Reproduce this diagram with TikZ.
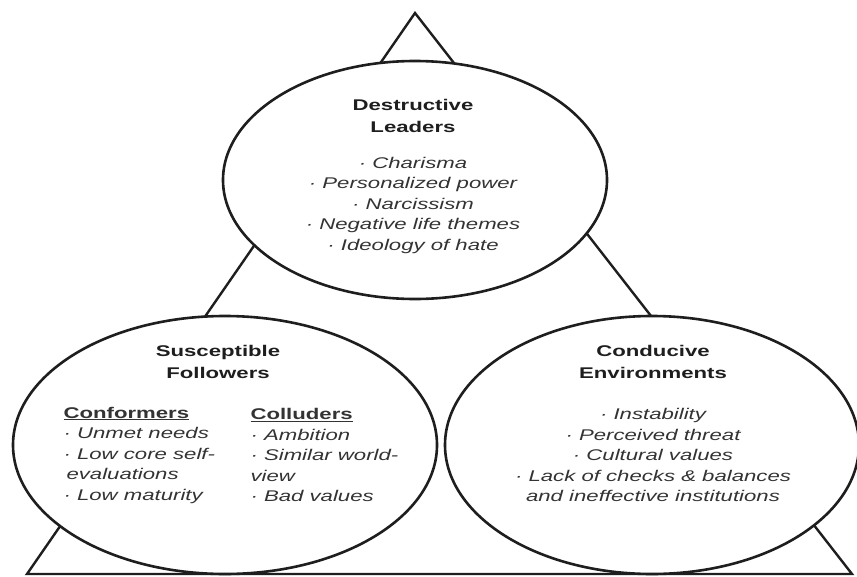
\documentclass[tikz,border=0pt]{standalone}
\usepackage{fontspec}
\setmainfont{Liberation Sans}[FakeStretch=1.43]
\usetikzlibrary{shapes.geometric}
\definecolor{ink}{HTML}{1E1E1E}
\definecolor{note}{HTML}{333333}

\begin{document}
\begin{tikzpicture}[x=1pt,y=-1pt,
  ring/.style={ellipse,draw=ink,line width=2.6pt,fill=white,inner sep=0pt},
  side/.style={draw=ink,line width=2.4pt,line join=miter},
  head/.style={font=\fontsize{15.5}{21.5}\selectfont\bfseries,text=ink,align=center},
  items/.style={font=\fontsize{15.5}{20.5}\selectfont\itshape,text=note},
]
  \useasboundingbox (0,0) rectangle (857,576);
  % triangle behind the three ellipses
  \coordinate (apex) at (415,13);
  \coordinate (bl) at (27,574);
  \coordinate (br) at (852,574);
  \draw[side] (apex) -- (bl) -- (br) -- cycle;

  \node[ring,minimum width=384,minimum height=238] (leaders) at (415,180) {};
  \node[ring,minimum width=424,minimum height=258] (followers) at (225,445) {};
  \node[ring,minimum width=414,minimum height=258] (environ) at (652,445) {};

  \node[head] (leadhead) at (413,116) {Destructive\\Leaders};
  \node[items,align=center] (leaditems) at (413,205)
    {· Charisma\\· Personalized power\\· Narcissism\\· Negative life themes\\· Ideology of hate};

  \node[head] (follhead) at (218,362) {Susceptible\\Followers};
  \node[items,align=left,anchor=west] (conform) at (60,455)
    {\underline{\textbf{\textup{Conformers}}}\\· Unmet needs\\· Low core self-\\\hspace{3pt}evaluations\\· Low maturity};
  \node[items,align=left,anchor=west] (collude) at (247,455)
    {\underline{\textbf{\textup{Colluders}}}\\· Ambition\\· Similar world-\\view\\· Bad values};

  \node[head] (envhead) at (653,362) {Conducive\\Environments};
  \node[items,align=center] (envitems) at (653,455)
    {· Instability\\· Perceived threat\\· Cultural values\\· Lack of checks \& balances\\and ineffective institutions};
\end{tikzpicture}
\end{document}
